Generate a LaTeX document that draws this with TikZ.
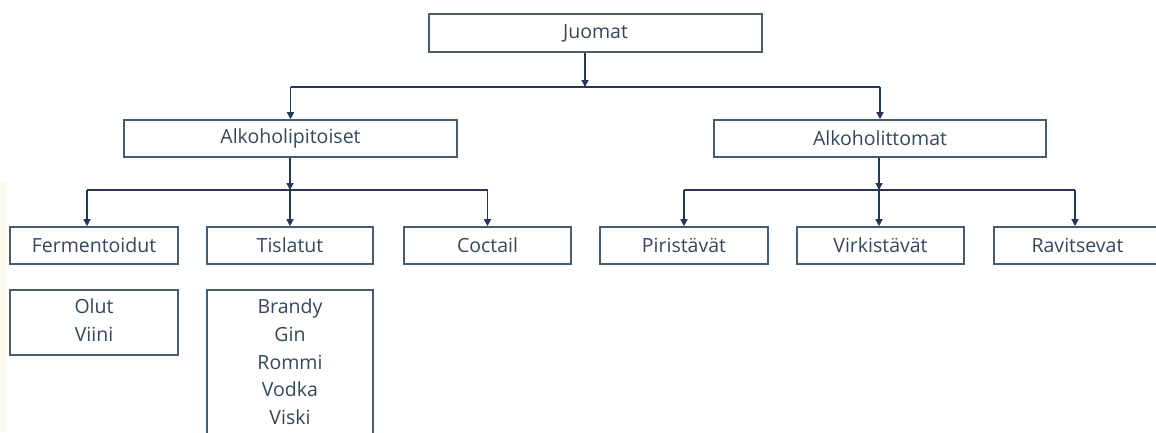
\documentclass[tikz,border=0pt]{standalone}
\usepackage{fontspec}
\setmainfont{Open Sans}
\usetikzlibrary{arrows.meta}
\definecolor{txt}{HTML}{34465A}
\definecolor{frame}{HTML}{485C70}
\definecolor{wire}{HTML}{263656}
\definecolor{cream}{HTML}{FAFAEE}
\begin{document}
\begin{tikzpicture}[x=1pt,y=-1pt,
  box/.style={draw=frame, line width=1.6pt, minimum height=37pt, inner sep=0pt,
    font=\fontsize{19.5}{24}\selectfont, text=txt},
  listtext/.style={inner sep=0pt, align=center, text=txt,
    font=\fontsize{19.5}{27.8}\selectfont},
  link/.style={draw=wire, line width=1.4pt},
  tip/.style={-{Triangle[width=7pt,length=7pt]}}
]
\useasboundingbox (0,0) rectangle (1156,432);
\fill[cream] (0,182) rectangle (7,432);

% top level
\node[box, minimum width=333pt, minimum height=38pt] (juomat) at (595.5,33) {Juomat};

% second level
\node[box, minimum width=333pt] (alkp) at (290.5,138.5) {Alkoholipitoiset};
\node[box, minimum width=332pt] (alkt) at (880,138.5) {Alkoholittomat};

% third level
\node[box, minimum width=168pt] (ferm) at (94,245.5) {Fermentoidut};
\node[box, minimum width=166pt] (tisl) at (290,245.5) {Tislatut};
\node[box, minimum width=167pt] (coct) at (487.5,245.5) {Coctail};
\node[box, minimum width=168pt] (piri) at (684,245.5) {Piristävät};
\node[box, minimum width=167pt] (virk) at (880.5,245.5) {Virkistävät};
\node[box, minimum width=167pt] (ravi) at (1077.5,245.5) {Ravitsevat};

% lists of examples
\node[box, anchor=north, minimum width=168pt, minimum height=65pt] (ferm-list) at (94,289) {};
\node[listtext, anchor=north] (ferm-items) at ([yshift=-9.5pt]ferm-list.north) {Olut\\Viini};
\node[box, anchor=north, minimum width=166pt, minimum height=170pt] (tisl-list) at (290,289) {};
\node[listtext, anchor=north] (tisl-items) at ([yshift=-9.5pt]tisl-list.north) {Brandy\\Gin\\Rommi\\Vodka\\Viski};

% branching points
\coordinate (j-bar) at (585,87);
\coordinate (p-bar) at (290,190);
\coordinate (p-left) at (87,190);
\coordinate (t-bar) at (879,190);
\coordinate (t-right) at (1075,190);

% Juomat -> two main groups
\draw[link,tip] (j-bar |- juomat.south) -- (j-bar);
\draw[link] (alkp.north |- j-bar) -- (alkt.north |- j-bar);
\draw[link,tip] (alkp.north |- j-bar) -- (alkp.north);
\draw[link,tip] (alkt.north |- j-bar) -- (alkt.north);

% Alkoholipitoiset -> subgroups
\draw[link,tip] (p-bar |- alkp.south) -- (p-bar);
\draw[link] (p-left) -- (coct.north |- p-bar);
\draw[link,tip] (p-left) -- (p-left |- ferm.north);
\draw[link,tip] (p-bar) -- (tisl.north);
\draw[link,tip] (coct.north |- p-bar) -- (coct.north);

% Alkoholittomat -> subgroups
\draw[link,tip] (t-bar |- alkt.south) -- (t-bar);
\draw[link] (piri.north |- t-bar) -- (t-right);
\draw[link,tip] (piri.north |- t-bar) -- (piri.north);
\draw[link,tip] (t-bar) -- (t-bar |- virk.north);
\draw[link,tip] (t-right) -- (t-right |- ravi.north);
\end{tikzpicture}
\end{document}
